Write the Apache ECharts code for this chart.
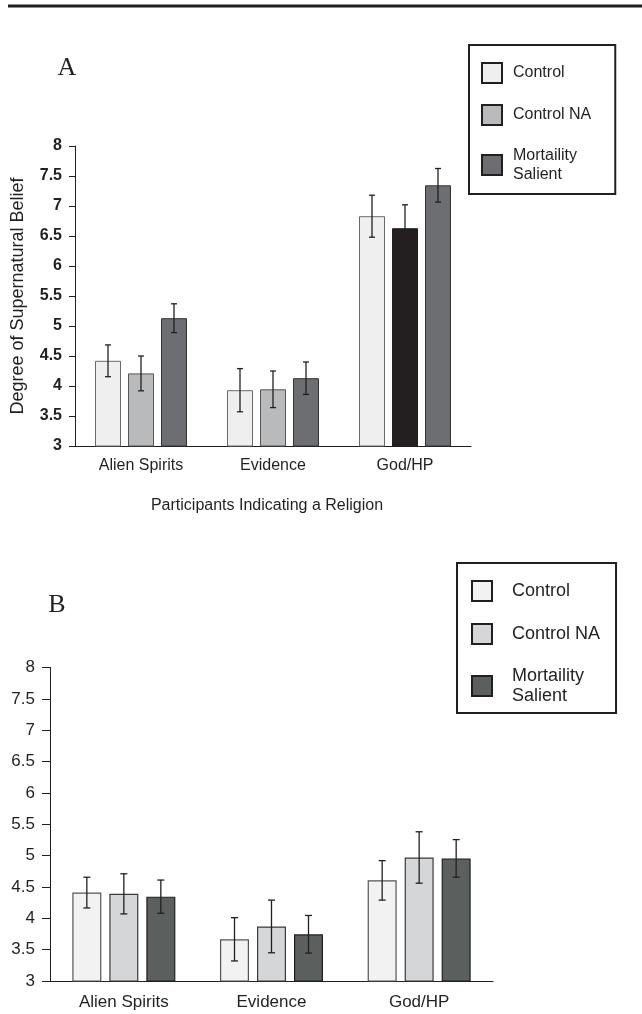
<!DOCTYPE html>
<html>
<head>
<meta charset="utf-8">
<script src="https://cdn.jsdelivr.net/npm/echarts@6/dist/echarts.min.js"></script>
<style>
html,body{margin:0;padding:0;background:#fff;}
#chart{width:642px;height:1014px;}
</style>
</head>
<body>
<div id="chart"></div>
<script>
// ---------- data ----------
const categories = ['Alien Spirits', 'Evidence', 'God/HP'];
const seriesNames = ['Control', 'Control NA', 'Mortaility Salient'];

// Panel A: participants indicating a religion
const aControl      = [4.42, 3.93, 6.83];
const aControlNA    = [4.21, 3.945, 6.63];
const aMortality    = [5.13, 4.13, 7.345];
const aControlErr   = [0.265, 0.36, 0.35];
const aControlNAErr = [0.29, 0.305, 0.39];
const aMortalityErr = [0.24, 0.27, 0.28];

// Panel B
const bControl      = [4.41, 3.665, 4.605];
const bControlNA    = [4.39, 3.87, 4.97];
const bMortality    = [4.345, 3.745, 4.955];
const bControlErr   = [0.245, 0.345, 0.315];
const bControlNAErr = [0.32, 0.42, 0.41];
const bMortalityErr = [0.265, 0.30, 0.30];

const yMin = 3, yMax = 8, yStep = 0.5;
const panelLabels = ['A', 'B'];
const xAxisNameA = 'Participants Indicating a Religion';
const yAxisNameA = 'Degree of Supernatural Belief';

// ---------- styles ----------
const INK = '#231f20';
const SANS = '"Liberation Sans", Arial, Helvetica, sans-serif';
const SERIF = '"Liberation Serif", "Times New Roman", serif';
const aFill = ['#efefef', '#b9babc', '#6d6e71'];
const aBorder = ['#6a6a6a', '#555555', '#333333'];
const bFill = ['#f2f2f2', '#d5d6d8', '#5b605f'];
const bBorder = ['#555555', '#3a3a3a', '#1f1f1f'];
const A_BLACK_SERIES = 1, A_BLACK_CAT = 2; // the black God/HP bar in panel A

const A_BW = 26, A_GAP = 7, B_BW = 29, B_GAP = 8;

function errRenderer(bw, gap, s, cap) {
  return function (params, api) {
    const cat = api.value(0), v = api.value(1), e = api.value(2);
    const top = api.coord([cat, v + e]);
    const bot = api.coord([cat, v - e]);
    const x = top[0] + (s - 1) * (bw + gap);
    const style = { stroke: INK, lineWidth: 1.3 };
    return {
      type: 'group',
      children: [
        { type: 'line', shape: { x1: x, y1: top[1], x2: x, y2: bot[1] }, style: style },
        { type: 'line', shape: { x1: x - cap, y1: top[1], x2: x + cap, y2: top[1] }, style: style },
        { type: 'line', shape: { x1: x - cap, y1: bot[1], x2: x + cap, y2: bot[1] }, style: style }
      ]
    };
  };
}

const aVals = [aControl, aControlNA, aMortality];
const aErrs = [aControlErr, aControlNAErr, aMortalityErr];
const bVals = [bControl, bControlNA, bMortality];
const bErrs = [bControlErr, bControlNAErr, bMortalityErr];

const series = [];
seriesNames.forEach(function (name, s) {
  series.push({
    type: 'bar', name: name, xAxisIndex: 0, yAxisIndex: 0,
    barWidth: A_BW, barGap: (A_GAP / A_BW * 100).toFixed(1) + '%',
    itemStyle: { color: aFill[s], borderColor: aBorder[s], borderWidth: 1 },
    data: aVals[s].map(function (v, i) {
      if (s === A_BLACK_SERIES && i === A_BLACK_CAT) {
        return { value: v, itemStyle: { color: INK, borderColor: INK } };
      }
      return v;
    }),
    z: 2
  });
});
seriesNames.forEach(function (name, s) {
  series.push({
    type: 'bar', name: name, xAxisIndex: 1, yAxisIndex: 1,
    barWidth: B_BW, barGap: (B_GAP / B_BW * 100).toFixed(1) + '%',
    itemStyle: { color: bFill[s], borderColor: bBorder[s], borderWidth: 1.2 },
    data: bVals[s].slice(),
    z: 2
  });
});
seriesNames.forEach(function (name, s) {
  series.push({
    type: 'custom', name: 'errA' + s, xAxisIndex: 0, yAxisIndex: 0,
    renderItem: errRenderer(A_BW, A_GAP, s, 3),
    data: aVals[s].map(function (v, i) { return [i, v, aErrs[s][i]]; }),
    z: 5
  });
  series.push({
    type: 'custom', name: 'errB' + s, xAxisIndex: 1, yAxisIndex: 1,
    renderItem: errRenderer(B_BW, B_GAP, s, 3.5),
    data: bVals[s].map(function (v, i) { return [i, v, bErrs[s][i]]; }),
    z: 5
  });
});

function legendFor(fills) {
  return seriesNames.map(function (n, s) {
    return { name: n, itemStyle: { color: fills[s] } };
  });
}

const option = {
  animation: false,
  backgroundColor: '#ffffff',
  grid: [
    { left: 75, top: 146, width: 396, height: 300 },
    { left: 50, top: 667.5, width: 443, height: 313.5 }
  ],
  xAxis: [
    {
      type: 'category', gridIndex: 0, data: categories,
      axisLine: { lineStyle: { color: INK, width: 1 } },
      axisTick: { length: 6, lineStyle: { color: INK }, interval: function (idx) { return idx === 0; } },
      axisLabel: { interval: 0, margin: 12, color: INK, fontSize: 16, fontFamily: SANS },
      name: xAxisNameA, nameLocation: 'middle', nameGap: 52,
      nameTextStyle: { color: INK, fontSize: 16, fontFamily: SANS, padding: [0, 12, 0, 0] }
    },
    {
      type: 'category', gridIndex: 1, data: categories,
      axisLine: { lineStyle: { color: INK, width: 1 } },
      axisTick: { length: 7, lineStyle: { color: INK }, interval: function (idx) { return idx === 0; } },
      axisLabel: { interval: 0, margin: 13, color: INK, fontSize: 17, fontFamily: SANS }
    }
  ],
  yAxis: [
    {
      type: 'value', gridIndex: 0, min: yMin, max: yMax, interval: yStep,
      splitLine: { show: false },
      axisLine: { show: true, lineStyle: { color: INK, width: 1 } },
      axisTick: { show: true, length: 6, lineStyle: { color: INK } },
      axisLabel: { margin: 13, color: INK, fontSize: 16, fontWeight: 'bold', fontFamily: SANS },
      name: yAxisNameA, nameLocation: 'middle', nameGap: 48,
      nameTextStyle: { color: INK, fontSize: 18, fontFamily: SANS }
    },
    {
      type: 'value', gridIndex: 1, min: yMin, max: yMax, interval: yStep,
      splitLine: { show: false },
      axisLine: { show: true, lineStyle: { color: INK, width: 1 } },
      axisTick: { show: true, length: 8, lineStyle: { color: INK } },
      axisLabel: { margin: 15, color: INK, fontSize: 17, fontFamily: SANS }
    }
  ],
  legend: [
    {
      orient: 'vertical', left: 469, top: 45,
      padding: [17, 24, 10, 12], itemGap: 20,
      itemWidth: 20, itemHeight: 20, icon: 'rect',
      borderColor: INK, borderWidth: 2, backgroundColor: '#fff',
      itemStyle: { borderColor: INK, borderWidth: 2 },
      textStyle: { color: INK, fontSize: 16, fontFamily: SANS, lineHeight: 19, padding: [0, 0, 0, 6] },
      formatter: function (n) { return n === 'Mortaility Salient' ? 'Mortaility\nSalient' : n; },
      selectedMode: false,
      data: legendFor(aFill)
    },
    {
      orient: 'vertical', left: 457, top: 563,
      padding: [17, 16, 7, 14], itemGap: 21,
      itemWidth: 20, itemHeight: 20, icon: 'rect',
      borderColor: INK, borderWidth: 2, backgroundColor: '#fff',
      itemStyle: { borderColor: INK, borderWidth: 2 },
      textStyle: { color: INK, fontSize: 18, fontFamily: SANS, lineHeight: 20, padding: [0, 0, 0, 15] },
      formatter: function (n) { return n === 'Mortaility Salient' ? 'Mortaility\nSalient' : n; },
      selectedMode: false,
      data: legendFor(bFill)
    }
  ],
  graphic: [
    { type: 'line', shape: { x1: 8, y1: 6, x2: 642, y2: 6 }, style: { stroke: INK, lineWidth: 3 } },
    { type: 'text', x: 67, y: 68, style: { text: panelLabels[0], font: '26px ' + SERIF, fill: INK, textAlign: 'center', textVerticalAlign: 'middle' } },
    { type: 'text', x: 57, y: 605, style: { text: panelLabels[1], font: '26px ' + SERIF, fill: INK, textAlign: 'center', textVerticalAlign: 'middle' } }
  ],
  series: series
};

const chart = echarts.init(document.getElementById('chart'), null, { renderer: 'canvas' });
chart.setOption(option);
</script>
</body>
</html>
